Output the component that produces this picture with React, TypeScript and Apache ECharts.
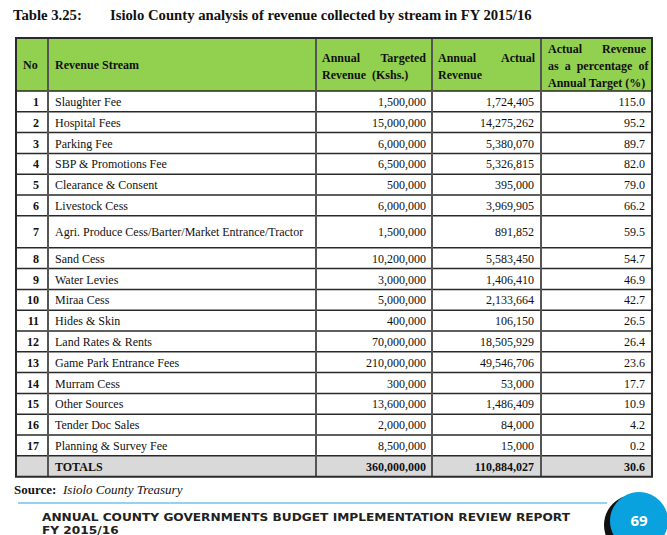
import React, { useEffect, useRef } from "react";
import * as echarts from "echarts";

const title = "Table 3.25:";
const subtitle = "Isiolo County analysis of revenue collected by stream in FY 2015/16";
const streams = [
  "Slaughter Fee",
  "Hospital Fees",
  "Parking Fee",
  "SBP & Promotions Fee",
  "Clearance & Consent",
  "Livestock Cess",
  "Agri. Produce Cess/Barter/Market Entrance/Tractor",
  "Sand Cess",
  "Water Levies",
  "Miraa Cess",
  "Hides & Skin",
  "Land Rates & Rents",
  "Game Park Entrance Fees",
  "Murram Cess",
  "Other Sources",
  "Tender Doc Sales",
  "Planning & Survey Fee",
];
const targeted = [1500000, 15000000, 6000000, 6500000, 500000, 6000000, 1500000, 10200000, 3000000, 5000000, 400000, 70000000, 210000000, 300000, 13600000, 2000000, 8500000];
const actual = [1724405, 14275262, 5380070, 5326815, 395000, 3969905, 891852, 5583450, 1406410, 2133664, 106150, 18505929, 49546706, 53000, 1486409, 84000, 15000];
const percent = ["115.0", "95.2", "89.7", "82.0", "79.0", "66.2", "59.5", "54.7", "46.9", "42.7", "26.5", "26.4", "23.6", "17.7", "10.9", "4.2", "0.2"];
const totalTargeted = 360000000;
const totalActual = 110884027;
const totalPercent = "30.6";
const source = "Isiolo County Treasury";
const footer1 = "ANNUAL COUNTY GOVERNMENTS BUDGET IMPLEMENTATION REVIEW REPORT";
const footer2 = "FY 2015/16";
const pageNo = "69";

const fmt = (v: number) => v.toLocaleString("en-US");

export default function App() {
  const ref = useRef<HTMLDivElement>(null);
  useEffect(() => {
    if (!ref.current) return;
    const chart = echarts.init(ref.current, null, { renderer: "svg" });
    const serif = "'Liberation Serif', 'Times New Roman', serif";
    const colX = [16, 48, 316, 432, 541, 652];
    const headTop = 38;
    const headBot = 91;
    const rowH = 20.8;
    const tallH = 32;
    const rowTops: number[] = [];
    const rowHs: number[] = [];
    let y = headBot;
    streams.forEach((_, i) => {
      const h = i === 6 ? tallH : rowH;
      rowTops.push(y);
      rowHs.push(h);
      y += h;
    });
    const totTop = y;
    const totH = 21;
    const tableBot = totTop + totH;

    const els: any[] = [];
    const txt = (x: number, yy: number, text: string, o: any = {}) =>
      els.push({
        type: "text",
        x,
        y: yy,
        style: {
          text,
          fontFamily: serif,
          fontSize: o.size || 12,
          fontWeight: o.bold ? "bold" : "normal",
          fontStyle: o.italic ? "italic" : "normal",
          fill: o.fill || "#111",
          textAlign: o.align || "left",
          textVerticalAlign: "middle",
        },
      });

    // title
    txt(13, 15, title, { size: 14.7, bold: true });
    txt(110, 15, subtitle, { size: 14.7, bold: true });

    // header background
    els.push({ type: "rect", shape: { x: colX[0], y: headTop, width: colX[5] - colX[0], height: headBot - headTop }, style: { fill: "#92D050" } });
    // totals background
    els.push({ type: "rect", shape: { x: colX[0], y: totTop, width: colX[5] - colX[0], height: totH }, style: { fill: "#D9D9D9" } });

    // header text
    const hs = { size: 12, bold: true };
    txt(23, 65, "No", hs);
    txt(55, 65, "Revenue Stream", hs);
    txt(322, 58, "Annual", hs);
    txt(426, 58, "Targeted", { ...hs, align: "right" });
    txt(322, 75, "Revenue  (Kshs.)", hs);
    txt(438, 58, "Annual", hs);
    txt(535, 58, "Actual", { ...hs, align: "right" });
    txt(438, 75, "Revenue", hs);
    txt(548, 49, "Actual", hs);
    txt(646, 49, "Revenue", { ...hs, align: "right" });
    txt(548, 66, "as  a  percentage  of", hs);
    txt(548, 83, "Annual Target (%)", hs);

    // body
    streams.forEach((s, i) => {
      const cy = rowTops[i] + rowHs[i] / 2 + 0.5;
      txt(39, cy, String(i + 1), { bold: true, align: "right" });
      txt(55, cy, s);
      txt(426, cy, fmt(targeted[i]), { align: "right" });
      txt(534, cy, fmt(actual[i]), { align: "right" });
      txt(645, cy, percent[i], { align: "right" });
    });
    const ty = totTop + totH / 2 + 0.5;
    txt(55, ty, "TOTALS", { bold: true });
    txt(426, ty, fmt(totalTargeted), { bold: true, align: "right" });
    txt(534, ty, fmt(totalActual), { bold: true, align: "right" });
    txt(645, ty, totalPercent, { bold: true, align: "right" });

    // horizontal lines
    const hLines = [headBot, ...rowTops.slice(1), totTop];
    hLines.forEach((yy) =>
      els.push({ type: "line", shape: { x1: colX[0], y1: yy, x2: colX[5], y2: yy }, style: { stroke: "#2a2a2a", lineWidth: 1.5 } })
    );
    // vertical lines
    colX.slice(1, 5).forEach((xx) =>
      els.push({ type: "line", shape: { x1: xx, y1: headTop, x2: xx, y2: tableBot }, style: { stroke: "#555", lineWidth: 2 } })
    );
    // outer border
    els.push({ type: "rect", shape: { x: colX[0], y: headTop, width: colX[5] - colX[0], height: tableBot - headTop }, style: { fill: "none", stroke: "#2a2a2a", lineWidth: 2 } });

    // source
    txt(14, 489, "Source:", { size: 13, bold: true });
    txt(63, 489, source, { size: 13, italic: true });

    // footer
    els.push({ type: "line", shape: { x1: 18, y1: 503, x2: 607, y2: 503 }, style: { stroke: "#6EC6EA", lineWidth: 1.5 } });
    const sans = "'DejaVu Sans', sans-serif";
    els.push({ type: "text", x: 42, y: 517, scaleX: 1.16, style: { text: footer1, fontFamily: sans, fontSize: 10.5, fontWeight: "bold", fill: "#222", textVerticalAlign: "middle" } });
    els.push({ type: "text", x: 42, y: 530, scaleX: 1.16, style: { text: footer2, fontFamily: sans, fontSize: 10.5, fontWeight: "bold", fill: "#222", textVerticalAlign: "middle" } });
    els.push({ type: "circle", shape: { cx: 634, cy: 525, r: 30 }, style: { fill: "#111" } });
    els.push({ type: "circle", shape: { cx: 639, cy: 521, r: 29 }, style: { fill: "#0AA2DE" } });
    els.push({ type: "text", x: 639, y: 520, style: { text: pageNo, fontFamily: "'Open Sans', sans-serif", fontSize: 15, fontWeight: "bold", fill: "#fff", textAlign: "center", textVerticalAlign: "middle" } });

    chart.setOption({ animation: false, backgroundColor: "#fff", graphic: { elements: els } });
    return () => chart.dispose();
  }, []);
  return <div ref={ref} style={{ width: 667, height: 535, position: "absolute", left: 0, top: 0 }} />;
}
